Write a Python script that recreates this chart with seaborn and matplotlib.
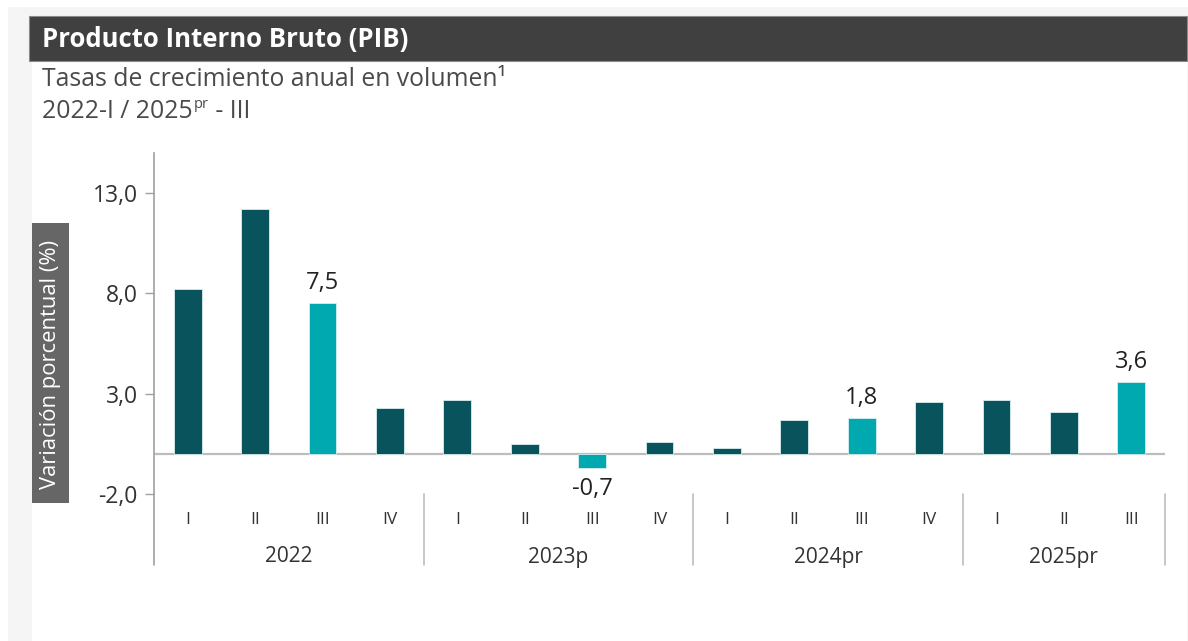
import matplotlib
matplotlib.use("Agg")
import matplotlib.pyplot as plt
import matplotlib.patches as mpatches
from matplotlib.lines import Line2D
import seaborn as sns
import pandas as pd

# ---------------- data ----------------
years = ["2022", "2023p", "2024pr", "2025pr"]
quarters = [["I", "II", "III", "IV"],
            ["I", "II", "III", "IV"],
            ["I", "II", "III", "IV"],
            ["I", "II", "III"]]
values = [8.2, 12.2, 7.5, 2.3,
          2.7, 0.5, -0.7, 0.6,
          0.3, 1.7, 1.8, 2.6,
          2.7, 2.1, 3.6]
highlight = [False, False, True, False,
             False, False, True, False,
             False, False, True, False,
             False, False, True]
yticks = [-2.0, 3.0, 8.0, 13.0]

title = "Producto Interno Bruto (PIB)"
subtitle1 = "Tasas de crecimiento anual en volumen\u00b9"
ylabel = "Variación porcentual (%)"

# ---------------- styling ----------------
sns.set_theme(style="white")
plt.rcParams["font.family"] = ["Open Sans", "DejaVu Sans"]

W, H = 1188, 641
fig = plt.figure(figsize=(W / 100, H / 100), dpi=100)
fig.patch.set_facecolor("white")

def fx(px):
    return px / W

def fy(py):
    return 1 - py / H

# page background (light gray) and white panel
fig.add_artist(mpatches.Rectangle((fx(8), 0), 1 - fx(8), fy(7), transform=fig.transFigure,
                                  facecolor="#f5f5f5", edgecolor="none", zorder=0))
fig.add_artist(mpatches.Rectangle((fx(32), 0), fx(1187) - fx(32), fy(16), transform=fig.transFigure,
                                  facecolor="white", edgecolor="none", zorder=0))
# header band
fig.add_artist(mpatches.Rectangle((fx(29), fy(61)), fx(1187) - fx(29), (61 - 16) / H,
                                  transform=fig.transFigure, facecolor="#404040",
                                  edgecolor="#8a8a8a", linewidth=0.8, zorder=1))
fig.text(fx(42), fy(40), title, color="white", fontsize=18.5, fontweight="bold",
         va="center", ha="left", zorder=2)

# subtitle lines
fig.text(fx(42), fy(79), subtitle1, color="#4a4a4a", fontsize=17.8, va="center", ha="left")
fig.canvas.draw()
renderer = fig.canvas.get_renderer()
t1 = fig.text(fx(42), fy(111), "2022-I / 2025", color="#4a4a4a", fontsize=17.8,
              va="center", ha="left")
bb = t1.get_window_extent(renderer)
t2 = fig.text(bb.x1 / W + 0.0008, fy(104), "pr", color="#4a4a4a", fontsize=10.5,
              va="center", ha="left")
bb2 = t2.get_window_extent(renderer)
fig.text(bb2.x1 / W, fy(111), " - III", color="#4a4a4a", fontsize=17.8,
         va="center", ha="left")

# ---------------- axes ----------------
ax_l, ax_r, ax_t, ax_b = 154, 1165, 153, 494
ax = fig.add_axes([fx(ax_l), fy(ax_b), fx(ax_r) - fx(ax_l), (ax_b - ax_t) / H])
ax.set_facecolor("none")

labels = []
for y, qs in zip(years, quarters):
    for q in qs:
        labels.append(f"{y}-{q}")
df = pd.DataFrame({"periodo": labels, "valor": values,
                   "tipo": ["hl" if h else "base" for h in highlight]})

sns.barplot(data=df, x="periodo", y="valor", hue="tipo", order=labels,
            palette={"base": "#08535c", "hl": "#00a9b0"}, dodge=False,
            width=0.41, legend=False, ax=ax, edgecolor="#d8eeee", linewidth=0.6,
            saturation=1)

ax.set_xlim(-0.5, len(labels) - 0.5)
ax.set_ylim(-2, 15)
ax.axhline(0, color="#bdbdbd", linewidth=1.6, zorder=0.5)

for s in ["top", "right", "bottom"]:
    ax.spines[s].set_visible(False)
ax.spines["left"].set_color("#a0a0a0")
ax.spines["left"].set_linewidth(1.2)

ax.set_yticks(yticks)
ax.set_yticklabels([f"{v:.1f}".replace(".", ",") for v in yticks])
ax.tick_params(axis="y", length=6.5, width=1, color="#a0a0a0", labelcolor="#333333",
               labelsize=16.5, pad=5.3, left=True)
ax.tick_params(axis="x", bottom=False, labelbottom=False)
ax.set_xlabel("")
ax.set_ylabel("")

# value labels on highlighted bars
for i, (v, h) in enumerate(zip(values, highlight)):
    if h:
        txt = f"{v:.1f}".replace(".", ",")
        if v >= 0:
            ax.annotate(txt, (i, v), xytext=(0, 8), textcoords="offset pixels",
                        ha="center", va="bottom", fontsize=17, color="#222222")
        else:
            ax.annotate(txt, (i, v), xytext=(0, -9), textcoords="offset pixels",
                        ha="center", va="top", fontsize=17, color="#222222")

# category axis (quarters + years)
trans = ax.get_xaxis_transform()
axh = ax_b - ax_t
def ay(py):
    return (ax_b - py) / axh

# left spine extension
ax.add_line(Line2D([-0.5, -0.5], [0, ay(565)], transform=trans, color="#a0a0a0",
                   linewidth=1.2, clip_on=False))
pos = 0
bounds = [-0.5]
for y, qs in zip(years, quarters):
    start = pos
    for q in qs:
        ax.text(pos, ay(520), q, transform=trans, ha="center", va="center",
                fontsize=12.5, color="#333333")
        pos += 1
    ax.text((start + pos - 1) / 2, ay(557), y, transform=trans, ha="center",
            va="center", fontsize=15, color="#333333")
    bounds.append(pos - 0.5)
for b in bounds[1:]:
    ax.add_line(Line2D([b, b], [ay(494), ay(565)], transform=trans, color="#bdbdbd",
                       linewidth=1.2, clip_on=False))

# y label in a gray box
fig.add_artist(mpatches.Rectangle((fx(32), fy(503)), fx(69) - fx(32), (503 - 223) / H,
                                  transform=fig.transFigure, facecolor="#666666",
                                  edgecolor="none", zorder=1))
fig.text(fx(51), fy(364), ylabel, rotation=90, color="white", fontsize=15.8,
         ha="center", va="center", zorder=2)

fig.savefig("out.png", dpi=100)
